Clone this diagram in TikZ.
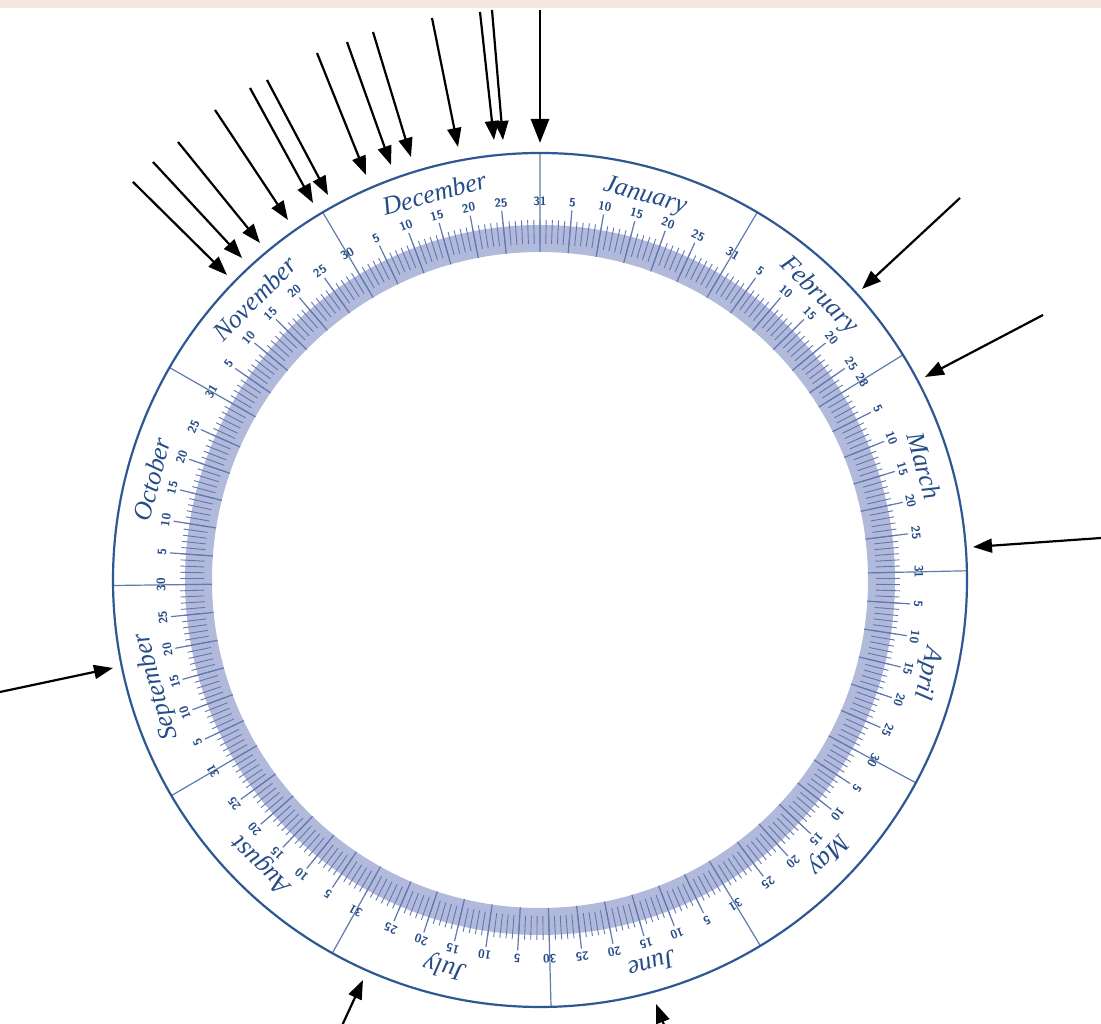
\documentclass[tikz,border=0pt]{standalone}
\usepackage{fontspec}
\newfontfamily\monthfont{Liberation Serif}
\usetikzlibrary{arrows.meta}
\definecolor{ringblue}{RGB}{45,88,148}
\definecolor{textblue}{RGB}{38,76,136}
\definecolor{bandfill}{RGB}{178,186,220}
\definecolor{tickblue}{RGB}{100,118,176}
\definecolor{lineblue}{RGB}{95,122,172}
\definecolor{topstrip}{RGB}{242,230,222}
\tikzset{
  outerring/.style={draw=ringblue, line width=2.2pt},
  daytick/.style={draw=tickblue, line width=0.9pt},
  fivetick/.style={draw=tickblue, line width=1.2pt},
  bline/.style={draw=lineblue, line width=1.2pt},
  monthlab/.style={text=textblue, font=\monthfont\fontsize{26}{28}\selectfont\itshape, anchor=base, inner sep=0pt},
  daylab/.style={text=textblue, font=\fontsize{12}{13}\selectfont\sffamily\bfseries, inner sep=0pt},
  pointer/.style={draw=black, line width=2.2pt, -{Triangle[length=19pt,width=14pt]}},
  bigpointer/.style={draw=black, line width=2.8pt, -{Triangle[length=24pt,width=18pt]}}
}
\def\dg{0.98630137}
\begin{document}
\begin{tikzpicture}[x=1pt,y=1pt]
\useasboundingbox (0,0) rectangle (1101,1024);
\fill[topstrip] (0,1016) rectangle (1101,1024);
\coordinate (O) at (540,444);
\begin{scope}[shift={(540,444)}]
  \fill[bandfill, even odd rule] (0,0) circle (355) (0,0) circle (328);
  \foreach \i in {1,...,365} {
    \pgfmathsetmacro\a{90-\i*\dg}
    \draw[daytick] (\a:336) -- (\a:360);
  }
  \foreach \m/\s/\n in {January/0/31, February/31/28, March/59/31, April/90/30, May/120/31, June/151/30, July/181/31, August/212/31, September/243/30, October/273/31, November/304/30, December/334/31} {
    \pgfmathsetmacro\mid{90-(\s+\n/2)*\dg}
    \node[monthlab, rotate=\mid-90] (m\m) at (\mid:392) {\m};
    \pgfmathsetmacro\e{90-(\s+\n)*\dg}
    \draw[bline] (\e:328) -- (\e:427);
    \foreach \k in {5,10,15,20,25} {
      \pgfmathsetmacro\b{90-(\s+\k)*\dg}
      \draw[fivetick] (\b:328) -- (\b:371);
      \node[daylab, rotate=\b-90] (d\m\k) at (\b:379) {\k};
    }
    \node[daylab, rotate=\e-90] (d\m\n) at (\e:379) {\n};
  }
  \draw[outerring] (0,0) circle (427);
\end{scope}
% arrows (image coordinates converted: Y = 1024 - y)
\foreach \nm/\tx/\ty/\hx/\hy in {
  a2/492/1014/503/884, a3/480/1012/494/884, a4/432/1006/458/877,
  a5/373/992/411/867, a6/347/982/391/859, a7/317/971/366/849,
  a8/267/944/328/829, a9/250/936/313/821, a10/215/914/288/804,
  a11/178/882/260/781, a12/153/862/242/766, a13/133/842/227/749,
  b1/960/826/862/735, b2/1043/709/925/647, b3/1101/486/973/477,
  l1/0/332/113/356, c1/340/-6/363/44, c2/666/-6/656/20} {
  \coordinate (\nm t) at (\tx,\ty);
  \coordinate (\nm h) at (\hx,\hy);
  \draw[pointer] (\nm t) -- (\nm h);
}
\coordinate (a1t) at (540,1014);
\coordinate (a1h) at (540,881);
\draw[bigpointer] (a1t) -- (a1h);
\end{tikzpicture}
\end{document}
